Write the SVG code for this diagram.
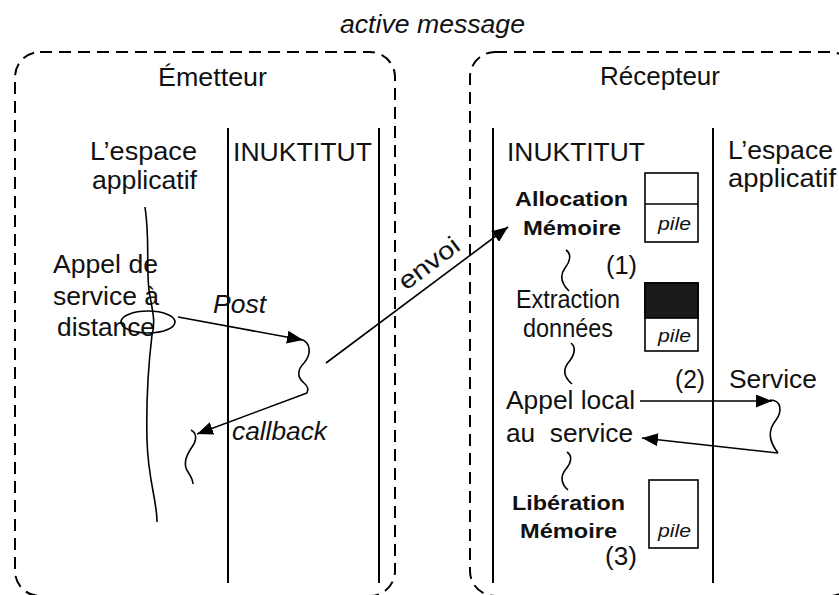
<svg xmlns="http://www.w3.org/2000/svg" width="839" height="595" viewBox="0 0 839 595">
<style>
.box{fill:none;stroke:#000;stroke-width:2;stroke-dasharray:12 7}
.lane{stroke:#000;stroke-width:2}
.ln{fill:none;stroke:#000;stroke-width:1.6}
.t{font-family:"Liberation Sans",Arial,sans-serif;font-size:25px;fill:#111}
.b{font-family:"Liberation Sans",Arial,sans-serif;font-size:21px;font-weight:bold;fill:#111}
.i{font-family:"Liberation Sans",Arial,sans-serif;font-size:25px;font-style:italic;fill:#111}
.p{font-family:"Liberation Sans",Arial,sans-serif;font-size:19px;font-style:italic;fill:#111}
.pile{fill:#fff;stroke:#000;stroke-width:1.6}
</style>
<defs>
<marker id="ah" markerUnits="userSpaceOnUse" markerWidth="17" markerHeight="13" refX="16" refY="6.5" orient="auto">
<path d="M0,0 L16,6.5 L0,13 z" fill="#000"/>
</marker>
</defs>
<text class="i" x="340" y="33" textLength="185" lengthAdjust="spacingAndGlyphs">active message</text>
<g id="emetteur">
<rect class="box" x="15" y="52" width="380" height="544" rx="25"/>
<text class="t" x="158" y="86" textLength="109" lengthAdjust="spacingAndGlyphs">Émetteur</text>
<line class="lane" x1="228" y1="128" x2="228" y2="583"/>
<line class="lane" x1="379" y1="128" x2="379" y2="583"/>
<text class="t" x="90" y="160" textLength="107" lengthAdjust="spacingAndGlyphs">L’espace</text>
<text class="t" x="92" y="189" textLength="105" lengthAdjust="spacingAndGlyphs">applicatif</text>
<text class="t" x="233" y="161" textLength="139" lengthAdjust="spacingAndGlyphs">INUKTITUT</text>
<text class="t" x="53" y="273" textLength="105" lengthAdjust="spacingAndGlyphs">Appel de</text>
<text class="t" x="53" y="305" textLength="106" lengthAdjust="spacingAndGlyphs">service à</text>
<text class="t" x="57" y="336" textLength="98" lengthAdjust="spacingAndGlyphs">distance</text>
<ellipse class="ln" cx="148" cy="322" rx="27" ry="11"/>
<text class="i" x="213" y="313" textLength="53" lengthAdjust="spacingAndGlyphs">Post</text>
<text class="i" x="232" y="440" textLength="95" lengthAdjust="spacingAndGlyphs">callback</text>
</g>
<g id="recepteur">
<rect class="box" x="470" y="52" width="385" height="544" rx="25"/>
<text class="t" x="600" y="85" textLength="120" lengthAdjust="spacingAndGlyphs">Récepteur</text>
<line class="lane" x1="493" y1="128" x2="493" y2="583"/>
<line class="lane" x1="713" y1="128" x2="713" y2="583"/>
<text class="t" x="507" y="161" textLength="138" lengthAdjust="spacingAndGlyphs">INUKTITUT</text>
<text class="t" x="728" y="159" textLength="105" lengthAdjust="spacingAndGlyphs">L’espace</text>
<text class="t" x="728" y="187" textLength="108" lengthAdjust="spacingAndGlyphs">applicatif</text>
<text class="b" x="515" y="206" textLength="113" lengthAdjust="spacingAndGlyphs">Allocation</text>
<text class="b" x="523" y="235" textLength="98" lengthAdjust="spacingAndGlyphs">Mémoire</text>
<g id="pile1">
<rect class="pile" x="645" y="173" width="53" height="69"/>
<line class="ln" x1="645" y1="204" x2="698" y2="204"/>
<text class="p" x="658" y="230" textLength="33" lengthAdjust="spacingAndGlyphs">pile</text>
</g>
<text class="t" x="606" y="274" textLength="31" lengthAdjust="spacingAndGlyphs">(1)</text>
<text class="t" x="516" y="308" textLength="104" lengthAdjust="spacingAndGlyphs">Extraction</text>
<text class="t" x="523" y="337" textLength="90" lengthAdjust="spacingAndGlyphs">données</text>
<g id="pile2">
<rect class="pile" x="645" y="283" width="53" height="68"/>
<rect x="645" y="283" width="53" height="35" fill="#1a1a1a" stroke="#000" stroke-width="1.6"/>
<text class="p" x="658" y="342" textLength="33" lengthAdjust="spacingAndGlyphs">pile</text>
</g>
<text class="t" x="675" y="388" textLength="30" lengthAdjust="spacingAndGlyphs">(2)</text>
<text class="t" x="729" y="388" textLength="88" lengthAdjust="spacingAndGlyphs">Service</text>
<text class="t" x="506" y="409" textLength="129" lengthAdjust="spacingAndGlyphs">Appel local</text>
<text class="t" x="506" y="442" textLength="127" lengthAdjust="spacingAndGlyphs" xml:space="preserve">au  service</text>
<text class="b" x="512" y="510" textLength="113" lengthAdjust="spacingAndGlyphs">Libération</text>
<text class="b" x="520" y="538" textLength="97" lengthAdjust="spacingAndGlyphs">Mémoire</text>
<g id="pile3">
<rect class="pile" x="649" y="480" width="49" height="68"/>
<text class="p" x="658" y="537" textLength="33" lengthAdjust="spacingAndGlyphs">pile</text>
</g>
<text class="t" x="605" y="565" textLength="32" lengthAdjust="spacingAndGlyphs">(3)</text>
</g>
<g id="connectors">
<path class="ln" d="M145 207 C150 240,146 265,149 290 C152 310,156 320,152 335 C149 360,146 400,147 440 C148 480,157 500,157 522"/>
<line class="ln" x1="178" y1="317" x2="303" y2="340" marker-end="url(#ah)"/>
<path class="ln" d="M300 339 C312 342,311 355,304 363 C296 371,298 378,304 383 C309 387,308 390,307 393"/>
<line class="ln" x1="307" y1="393" x2="197" y2="434" marker-end="url(#ah)"/>
<path class="ln" d="M191 430 C197 433,197 440,192 447 C185 457,183 465,188 472 C192 478,193 480,193 484"/>
<line class="ln" x1="326" y1="363" x2="508" y2="227" marker-end="url(#ah)"/>
<text class="t" transform="translate(434 270) rotate(-37)" text-anchor="middle" textLength="70" lengthAdjust="spacingAndGlyphs">envoi</text>
<path class="ln" d="M566 250 C572 254,570 262,565 268 C559 276,562 284,569 291"/>
<path class="ln" d="M571 343 C577 348,574 356,568 363 C562 371,565 378,572 384"/>
<path class="ln" d="M567 452 C573 456,571 463,566 469 C560 476,561 484,568 490"/>
<line class="ln" x1="640" y1="401" x2="772" y2="401" marker-end="url(#ah)"/>
<path class="ln" d="M770 400 C782 400,782 412,776 420 C768 430,768 440,778 453"/>
<line class="ln" x1="778" y1="453" x2="642" y2="438" marker-end="url(#ah)"/>
</g>
</svg>
